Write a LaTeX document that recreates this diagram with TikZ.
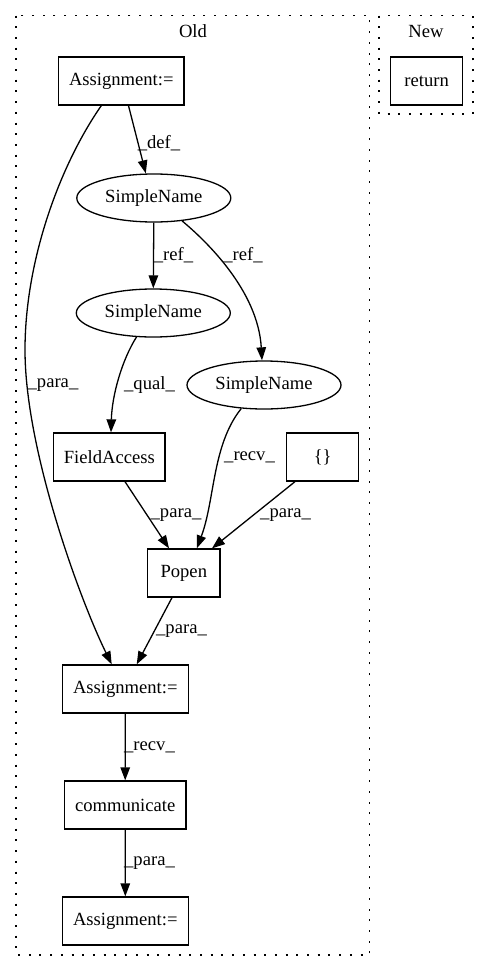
\documentclass[tikz,border=0pt]{standalone}
\usepackage{fontspec}
\setmainfont{Liberation Serif}
\usetikzlibrary{arrows.meta,shapes.geometric}
\begin{document}
\begin{tikzpicture}[x=1pt,y=-1pt,
  every node/.style={font=\fontsize{18.6}{20}\selectfont},
  box/.style={draw,line width=1.3pt,rectangle,inner sep=0pt,minimum height=48pt},
  oval/.style={draw,line width=1.3pt,ellipse,inner sep=0pt,minimum width=154pt,minimum height=48pt},
  edge/.style={line width=1.3pt,-{Triangle[length=13pt,width=9.5pt]}},
  lbl/.style={inner sep=0pt,anchor=center},
  cluster/.style={draw,line width=1.3pt,dash pattern=on 2pt off 8.7pt}]
\useasboundingbox (0,0) rectangle (489,972);

% clusters
\draw[cluster] (16,15.5) rectangle (369.5,955);
\draw[cluster] (379,15.5) rectangle (473,114);
\node (old) at (193,31) {Old};
\node (new) at (426,31) {New};

% nodes
\node[box,minimum width=72pt] (ret) at (426.7,81) {return};
\node[box,minimum width=125.5pt] (a1) at (121.3,81) {Assignment:=};
\node[oval] (sn1) at (153.8,198) {SimpleName};
\node[oval] (sn2) at (153.3,313) {SimpleName};
\node[oval] (sn3) at (264,385) {SimpleName};
\node[box,minimum width=111.5pt] (fa) at (109.3,457) {FieldAccess};
\node[box,minimum width=72pt] (br) at (322.7,457) {\{\}};
\node[box,minimum width=72.3pt] (popen) at (183.8,573) {Popen};
\node[box,minimum width=126pt] (a2) at (125.3,689) {Assignment:=};
\node[box,minimum width=121.7pt] (comm) at (125.2,805) {communicate};
\node[box,minimum width=126pt] (a3) at (125.3,921) {Assignment:=};

% connectors
\draw[edge] ([xshift=7.2pt]a1.south) -- ([xshift=-8pt]sn1.north);
\draw[edge] ([xshift=-20pt]a1.south) .. controls (60,165) and (25,260) .. (25,350)
  .. controls (25,450) and (80,600) .. ([xshift=-13.6pt]a2.north);
\draw[edge] (sn1.south) -- (sn2.north);
\draw[edge] (sn1.-39) .. controls (205,240) and (258,290) .. ([xshift=-2pt]sn3.north);
\draw[edge] (sn2.-125) .. controls (122,360) and (112,395) .. ([xshift=1.7pt]fa.north);
\draw[edge] (sn3.-134) .. controls (212,445) and (215,500) .. ([xshift=13pt]popen.north);
\draw[edge] ([xshift=15.7pt]fa.south) -- ([xshift=-14.8pt]popen.north);
\draw[edge] ([xshift=-27.7pt]br.south) -- ([xshift=28.2pt]popen.north);
\draw[edge] ([xshift=-11.8pt]popen.south) -- ([xshift=11.4pt]a2.north);
\draw[edge] (a2.south) -- (comm.north);
\draw[edge] (comm.south) -- (a3.north);

% connector labels
\node[lbl] (l1) at (159,143) {\_def\_};
\node[lbl] (l2) at (53,385) {\_para\_};
\node[lbl] (l3) at (173.5,255) {\_ref\_};
\node[lbl] (l4) at (243,255) {\_ref\_};
\node[lbl] (l5) at (149.5,385) {\_qual\_};
\node[lbl] (l6) at (249.5,457) {\_recv\_};
\node[lbl] (l7) at (176,515) {\_para\_};
\node[lbl] (l8) at (285.5,515) {\_para\_};
\node[lbl] (l9) at (181.5,631) {\_para\_};
\node[lbl] (l10) at (149.5,747) {\_recv\_};
\node[lbl] (l11) at (149.5,863) {\_para\_};
\end{tikzpicture}
\end{document}
